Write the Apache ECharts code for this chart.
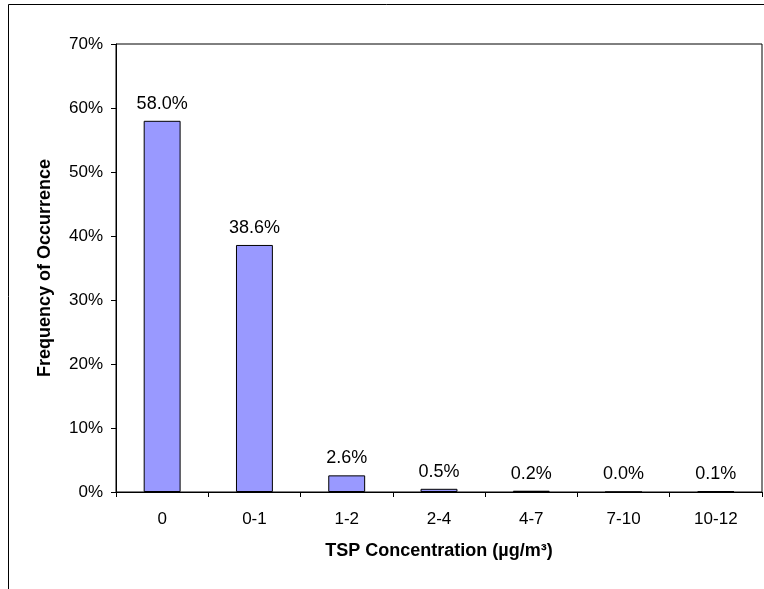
<!DOCTYPE html>
<html>
<head>
<meta charset="utf-8">
<script src="https://cdn.jsdelivr.net/npm/echarts@6/dist/echarts.min.js"></script>
<style>
  html, body { margin: 0; padding: 0; background: #ffffff; }
  #chart { width: 764px; height: 589px; }
</style>
</head>
<body>
<div id="chart"></div>
<script>
// TSP concentration bins and their frequency of occurrence (%)
const categories = ['0', '0-1', '1-2', '2-4', '4-7', '7-10', '10-12'];
const frequency = [58.0, 38.6, 2.6, 0.5, 0.2, 0.0, 0.1];
const yTicks = [0, 10, 20, 30, 40, 50, 60, 70];

const FONT = '"Liberation Sans", Arial, sans-serif';

const chart = echarts.init(document.getElementById('chart'), null, { renderer: 'canvas' });

chart.setOption({
  backgroundColor: '#ffffff',
  animation: false,
  grid: { left: 116, top: 44, right: 2, bottom: 97, show: true, borderColor: '#000', borderWidth: 1, backgroundColor: 'transparent' },
  graphic: [
    // outer chart frame: top edge and left edge
    { type: 'line', shape: { x1: 8.5, y1: 4.5, x2: 764, y2: 4.5 }, style: { stroke: '#000', lineWidth: 1 } },
    { type: 'line', shape: { x1: 8.5, y1: 4.5, x2: 8.5, y2: 589 }, style: { stroke: '#000', lineWidth: 1 } }
  ],
  xAxis: {
    type: 'category',
    data: categories,
    name: 'TSP Concentration (µg/m³)',
    nameLocation: 'middle',
    nameGap: 50,
    nameTextStyle: { fontFamily: FONT, fontSize: 18, fontWeight: 'bold', color: '#000' },
    axisLine: { lineStyle: { color: '#000', width: 1 } },
    axisTick: { show: true, alignWithLabel: false, length: 5, lineStyle: { color: '#000' } },
    axisLabel: { fontFamily: FONT, fontSize: 17, color: '#000', margin: 19 },
    splitLine: { show: false }
  },
  yAxis: {
    type: 'value',
    min: yTicks[0],
    max: yTicks[yTicks.length - 1],
    interval: 10,
    name: 'Frequency of Occurrence',
    nameLocation: 'middle',
    nameGap: 62,
    nameTextStyle: { fontFamily: FONT, fontSize: 18, fontWeight: 'bold', color: '#000' },
    axisLine: { show: true, lineStyle: { color: '#000', width: 1 } },
    axisTick: { show: true, length: 5, lineStyle: { color: '#000' } },
    axisLabel: { fontFamily: FONT, fontSize: 17, color: '#000', margin: 13, formatter: v => v + '%' },
    splitLine: { show: false }
  },
  series: [{
    type: 'bar',
    data: frequency,
    barWidth: '40%',
    itemStyle: { color: '#9999FF', borderColor: '#000', borderWidth: 1 },
    label: {
      show: true,
      position: 'top',
      distance: 8,
      fontFamily: FONT,
      fontSize: 18,
      color: '#000',
      formatter: p => p.value.toFixed(1) + '%'
    }
  }]
});
</script>
</body>
</html>
